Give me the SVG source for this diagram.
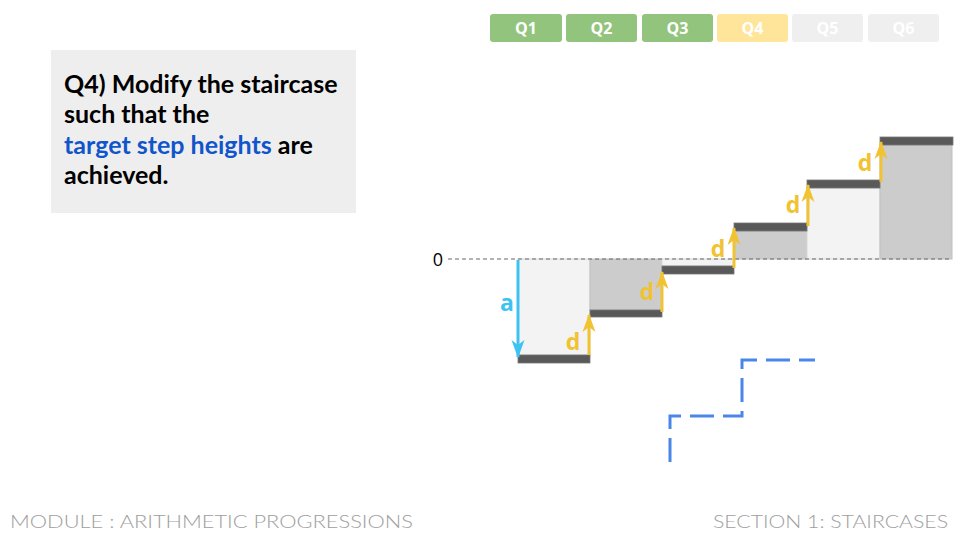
<svg xmlns="http://www.w3.org/2000/svg" width="960" height="540" viewBox="0 0 960 540">
<style>
.qbtn{stroke:none}
.qtxt{font-family:"Open Sans","Noto Sans",sans-serif;font-weight:bold;font-size:16px;fill:#ffffff;text-anchor:middle}
.q{font-family:Lato,"Noto Sans",sans-serif;font-weight:bold;font-size:25px;fill:#000000}
.foot{font-family:Lato,"Open Sans",sans-serif;font-weight:300;font-size:18px;fill:#9e9e9e}
.light{fill:#f3f3f3;stroke:#d9d9d9;stroke-width:1}
.dark{fill:#cccccc;stroke:#c0c0c0;stroke-width:1}
.tread{fill:#595959;stroke:#777777;stroke-width:0.8}
.d{font-family:"Open Sans","Noto Sans",sans-serif;font-weight:bold;font-size:23px;fill:#f1c232;text-anchor:middle}
.ya{stroke:#f1c232;stroke-width:3;fill:none;marker-end:url(#ay)}
</style>
<defs>
<marker id="ay" markerUnits="userSpaceOnUse" markerWidth="18" markerHeight="14" refX="17" refY="7" orient="auto">
<path d="M0,0.5 L18,7 L0,13.5 L5,7 z" fill="#f1c232"/>
</marker>
<marker id="ab" markerUnits="userSpaceOnUse" markerWidth="18" markerHeight="14" refX="17" refY="7" orient="auto">
<path d="M0,0.5 L18,7 L0,13.5 L5,7 z" fill="#3cc3f2"/>
</marker>
</defs>
<rect width="960" height="540" fill="#ffffff"/>

<g id="progress">
<rect class="qbtn" x="490" y="14" width="72" height="28" rx="3" fill="#93c47d"/>
<text class="qtxt" x="526" y="34">Q1</text>
<rect class="qbtn" x="566" y="14" width="71" height="28" rx="3" fill="#93c47d"/>
<text class="qtxt" x="601.5" y="34">Q2</text>
<rect class="qbtn" x="642" y="14" width="71" height="28" rx="3" fill="#93c47d"/>
<text class="qtxt" x="677.5" y="34">Q3</text>
<rect class="qbtn" x="717" y="14" width="71" height="28" rx="3" fill="#ffe599"/>
<text class="qtxt" x="752.5" y="34">Q4</text>
<rect class="qbtn" x="792" y="14" width="71" height="28" rx="3" fill="#efefef"/>
<text class="qtxt" x="827.5" y="34">Q5</text>
<rect class="qbtn" x="868" y="14" width="71" height="28" rx="3" fill="#efefef"/>
<text class="qtxt" x="903.5" y="34">Q6</text>
</g>

<g id="question">
<rect x="51" y="50" width="305" height="163" fill="#eeeeee"/>
<text class="q" x="64" y="93">Q4) Modify the staircase</text>
<text class="q" x="64" y="123">such that the</text>
<text class="q" x="64" y="154"><tspan fill="#1155cc">target step heights</tspan> are</text>
<text class="q" x="64" y="184">achieved.</text>
</g>

<g id="staircase">
<rect class="light" x="518" y="259" width="72" height="96"/>
<rect class="dark" x="590" y="259" width="72" height="51"/>
<rect class="light" x="662" y="259" width="72" height="7"/>
<rect class="dark" x="734" y="231" width="73" height="28"/>
<rect class="light" x="807" y="188" width="73" height="71"/>
<rect class="dark" x="880" y="145" width="72" height="114"/>
<rect class="tread" x="518" y="355" width="72" height="8"/>
<rect class="tread" x="590" y="310" width="72" height="7"/>
<rect class="tread" x="662" y="266" width="72" height="8"/>
<rect class="tread" x="734" y="223" width="73" height="8"/>
<rect class="tread" x="807" y="180" width="73" height="8"/>
<rect class="tread" x="880" y="137" width="73" height="8"/>
</g>

<g id="zero-line">
<line x1="448" y1="259" x2="952" y2="259" stroke="#666666" stroke-width="1" stroke-dasharray="4 3"/>
<text x="438" y="266" font-family="'Open Sans','Noto Sans',sans-serif" font-size="18" fill="#000000" text-anchor="middle">0</text>
</g>

<g id="connectors">
<line x1="518" y1="260" x2="518" y2="357" stroke="#3cc3f2" stroke-width="3" marker-end="url(#ab)"/>
<line class="ya" x1="589" y1="355" x2="589" y2="315"/>
<line class="ya" x1="662" y1="312" x2="662" y2="272"/>
<line class="ya" x1="734" y1="268" x2="734" y2="228"/>
<line class="ya" x1="808" y1="226" x2="808" y2="185"/>
<line class="ya" x1="881" y1="182" x2="881" y2="142"/>
</g>

<g id="labels">
<text x="507" y="311" font-family="'Open Sans','Noto Sans',sans-serif" font-weight="bold" font-size="23" fill="#3cc3f2" text-anchor="middle">a</text>
<text class="d" x="573" y="350">d</text>
<text class="d" x="647" y="300">d</text>
<text class="d" x="718" y="257">d</text>
<text class="d" x="793" y="213">d</text>
<text class="d" x="865" y="171">d</text>
</g>

<g id="target">
<path d="M670,462 V416 H742 V360 H815" fill="none" stroke="#4a86e8" stroke-width="3" stroke-dasharray="24 9"/>
</g>

<g id="footer">
<text class="foot" x="10" y="528" textLength="403" lengthAdjust="spacingAndGlyphs">MODULE : ARITHMETIC PROGRESSIONS</text>
<text class="foot" x="713" y="528" textLength="235" lengthAdjust="spacingAndGlyphs">SECTION 1: STAIRCASES</text>
</g>
</svg>
